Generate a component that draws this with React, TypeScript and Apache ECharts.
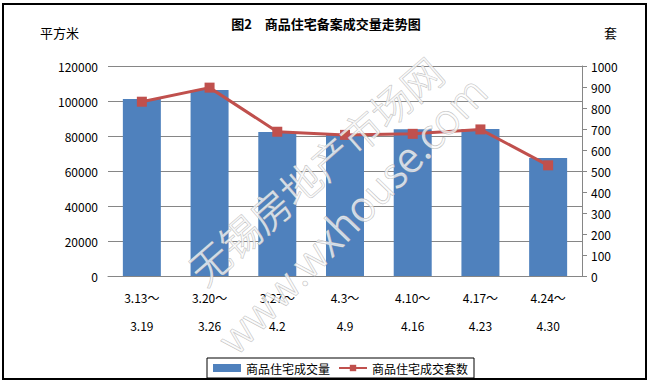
import React, { useEffect, useRef } from "react";
import * as echarts from "echarts";

const weekStart = ["3.13～", "3.20～", "3.27～", "4.3～", "4.10～", "4.17～", "4.24～"];
const weekEnd = ["3.19", "3.26", "4.2", "4.9", "4.16", "4.23", "4.30"];
const areaValues = [101100, 106300, 82300, 80600, 83900, 84000, 67400];
const unitValues = [830, 897, 687, 672, 677, 698, 527];
const seriesNames = ["商品住宅成交量", "商品住宅成交套数"];
const titleText = "图2　商品住宅备案成交量走势图";
const leftUnit = "平方米";
const rightUnit = "套";
const watermarkCn = "无锡房地产市场网";
const watermarkUrl = "www.wxhouse.com";

const FONT = "'Noto Sans CJK SC', 'Noto Sans', sans-serif";

export default function App() {
  const ref = useRef<HTMLDivElement>(null);
  useEffect(() => {
    if (!ref.current) return;
    const chart = echarts.init(ref.current, undefined, { renderer: "svg" });
    const categories = weekStart.map((s, i) => s + "\n" + weekEnd[i]);
    chart.setOption({
      animation: false,
      backgroundColor: "#fff",
      textStyle: { fontFamily: FONT },
      title: {
        text: titleText,
        left: "center",
        top: 12,
        textStyle: { fontSize: 13, fontWeight: "bold", color: "#000", fontFamily: FONT },
      },
      grid: { left: 108, right: 70, top: 66, bottom: 110 },
      legend: {
        left: 207,
        top: 358,
        padding: [4, 6],
        borderColor: "#000",
        borderWidth: 1,
        itemGap: 8,
        itemWidth: 28,
        itemHeight: 8,
        textStyle: { fontSize: 12, color: "#000", fontFamily: FONT },
        data: [
          { name: seriesNames[0], icon: "rect" },
          { name: seriesNames[1] },
        ],
      },
      xAxis: {
        type: "category",
        data: categories,
        axisLine: { lineStyle: { color: "#868686", width: 1 } },
        axisTick: { show: false },
        axisLabel: {
          margin: 7,
          color: "#000",
          fontSize: 12,
          lineHeight: 28,
          fontFamily: FONT,
          interval: 0,
        },
      },
      yAxis: [
        {
          type: "value",
          min: 0,
          max: 120000,
          interval: 20000,
          axisLine: { show: false },
          axisTick: { show: false },
          axisLabel: {
            color: "#000",
            fontSize: 12,
            margin: 10,
            fontFamily: FONT,
            formatter: (v: number) => String(v),
          },
          splitLine: { lineStyle: { color: "#868686", width: 1 } },
        },
        {
          type: "value",
          min: 0,
          max: 1000,
          interval: 100,
          position: "right",
          axisLine: { show: true, lineStyle: { color: "#868686", width: 1 } },
          axisTick: { show: true, length: 5, lineStyle: { color: "#868686" } },
          axisLabel: {
            color: "#000",
            fontSize: 12,
            margin: 9,
            fontFamily: FONT,
            formatter: (v: number) => String(v),
          },
          splitLine: { show: false },
        },
      ],
      series: [
        {
          name: seriesNames[0],
          type: "bar",
          data: areaValues,
          barWidth: 38,
          itemStyle: { color: "#4F81BD" },
          yAxisIndex: 0,
        },
        {
          name: seriesNames[1],
          type: "line",
          data: unitValues,
          yAxisIndex: 1,
          symbol: "rect",
          symbolSize: 10,
          lineStyle: { color: "#C0504D", width: 3 },
          itemStyle: { color: "#C0504D" },
        },
      ],
      graphic: [
        {
          type: "rect",
          shape: { x: 3, y: 4, width: 643, height: 375 },
          style: { fill: "none", stroke: "#000", lineWidth: 2 },
          z: 100,
          silent: true,
        },
        {
          type: "text",
          x: 40,
          y: 26,
          style: { text: leftUnit, fill: "#000", font: `13px ${FONT}` },
        },
        {
          type: "text",
          x: 604,
          y: 26,
          style: { text: rightUnit, fill: "#000", font: `13px ${FONT}` },
        },
        {
          type: "text",
          x: 315,
          y: 170,
          rotation: (41 * Math.PI) / 180,
          style: {
            text: watermarkCn,
            font: `300 40px ${FONT}`,
            fill: "rgba(255,255,255,0.7)",
            stroke: "rgba(185,185,185,0.9)",
            lineWidth: 1,
            align: "center",
            verticalAlign: "middle",
          },
          z: 50,
          silent: true,
        },
        {
          type: "text",
          x: 350,
          y: 213,
          rotation: (46 * Math.PI) / 180,
          style: {
            text: watermarkUrl,
            font: `300 42px ${FONT}`,
            fill: "rgba(255,255,255,0.7)",
            stroke: "rgba(185,185,185,0.9)",
            lineWidth: 1,
            align: "center",
            verticalAlign: "middle",
          },
          z: 50,
          silent: true,
        },
      ],
    });
    return () => chart.dispose();
  }, []);
  return (
    <div
      ref={ref}
      style={{ position: "absolute", left: 0, top: 0, width: 652, height: 386 }}
    />
  );
}
